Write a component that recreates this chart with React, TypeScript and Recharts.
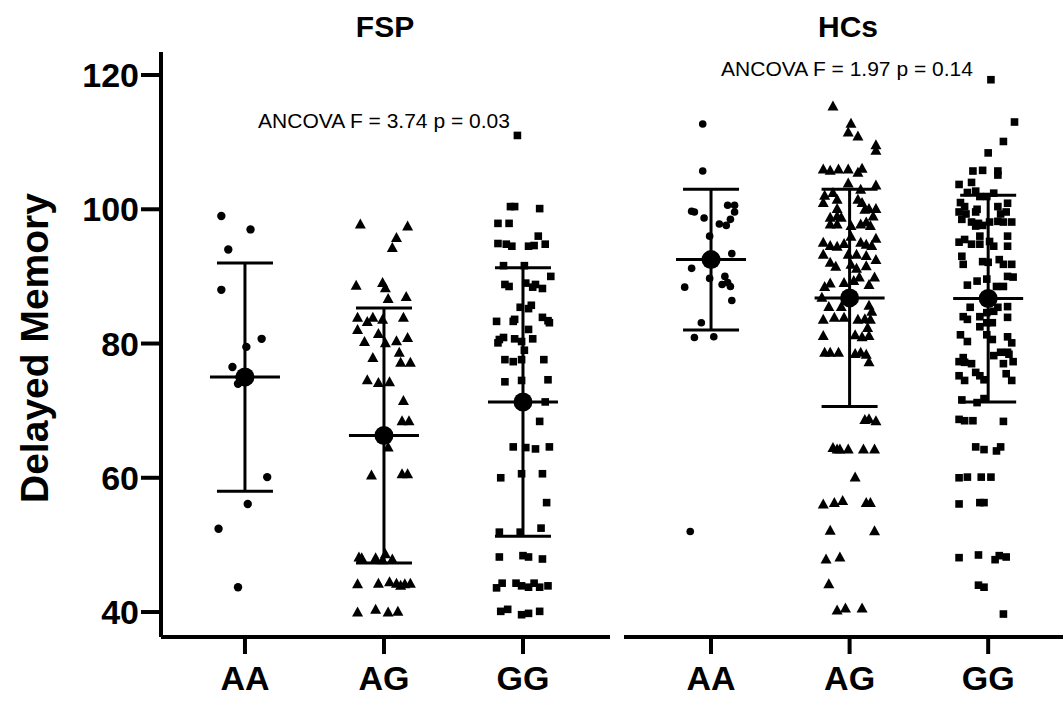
import { ScatterChart, Scatter, XAxis, YAxis, ErrorBar } from "recharts";

const FONT = "'Liberation Sans', Arial, Helvetica, sans-serif";

const categories = ["AA", "AG", "GG"];
const yTicks = [40, 60, 80, 100, 120];

// FSP group: values and horizontal jitter (in category units)
const fspAAValues = [99, 97, 94, 88, 80.7, 79.5, 76.5, 75, 74, 60.1, 56.1, 52.4, 43.7];
const fspAAJitter = [-0.17, 0.04, -0.12, -0.17, 0.12, 0.01, -0.09, -0.04, -0.05, 0.16, 0.02, -0.19, -0.05];

const fspAGValues = [
  97.8, 97.5, 95.8, 94.3, 88.7, 89.1, 88.3, 86.7, 87.0, 83.9, 83.3, 83.9, 83.6, 83.9, 82.1, 81.5,
  80.3, 80.1, 80.4, 80.9, 78.7, 77.9, 77.2, 77.2, 74.6, 74.2, 74.3, 71.5, 68.5, 68.5, 64.6, 60.4,
  60.6, 60.6, 48.2, 48.1, 48.1, 48.7, 47.9, 47.8, 44.2, 44.3, 44.5, 44.3, 44.0, 44.2, 44.3, 40.0,
  40.4, 40.0, 40.1,
];
const fspAGJitter = [
  -0.17, 0.17, 0.09, 0.06, -0.2, -0.01, 0.01, 0.03, 0.16, -0.19, -0.12, -0.08, -0.01, 0.14, -0.19, -0.04,
  -0.14, 0.01, 0.09, 0.17, 0.11, -0.08, 0.12, 0.19, -0.12, -0.04, 0.04, 0.14, 0.13, 0.18, 0.03, -0.09,
  0.13, 0.17, -0.18, -0.16, -0.06, 0.01, 0.06, -0.01, -0.19, -0.04, 0.04, 0.09, 0.12, 0.15, 0.19, -0.19,
  -0.06, 0.03, 0.1,
];

const fspGGValues = [
  111.0, 100.4, 100.4, 100.1, 97.9, 97.9, 96.0, 94.9, 94.8, 94.5, 94.5, 94.6, 94.8, 91.6, 91.6, 90.0,
  88.8, 88.5, 89.0, 88.8, 88.4, 88.2, 85.7, 85.4, 85.2, 83.3, 83.3, 83.6, 83.9, 83.4, 83.1, 82.1,
  80.6, 80.9, 80.7, 80.3, 80.7, 80.1, 79.0, 77.6, 77.3, 77.6, 77.6, 74.3, 74.5, 74.6, 71.3, 68.4,
  64.6, 64.5, 64.3, 64.6, 60.0, 60.6, 60.6, 56.3, 51.9, 51.9, 52.5, 48.2, 48.4, 48.2, 47.9, 43.6,
  44.3, 44.3, 43.9, 43.7, 44.3, 43.7, 43.9, 40.1, 40.4, 39.6, 39.8, 40.1,
];
const fspGGJitter = [
  -0.04, -0.09, -0.06, 0.12, -0.18, -0.1, 0.11, -0.18, -0.12, -0.08, 0.04, 0.08, 0.16, -0.14, 0.01, 0.2,
  -0.13, -0.1, 0.02, 0.09, 0.07, 0.14, 0.06, -0.02, 0.04, -0.19, -0.07, -0.06, 0.14, 0.18, 0.19, 0.04,
  -0.17, -0.14, -0.06, -0.01, 0.07, -0.18, 0.01, -0.13, -0.07, -0.01, 0.15, -0.13, -0.01, 0.18, 0.16, 0.12,
  -0.07, 0.02, 0.09, 0.19, -0.16, -0.01, 0.14, 0.17, -0.17, -0.02, 0.13, -0.17, 0.0, 0.04, 0.14, -0.19,
  -0.15, -0.05, -0.01, 0.04, 0.08, 0.12, 0.18, -0.16, -0.11, -0.01, 0.04, 0.12,
];

// HCs group
const hcAAValues = [
  112.7, 105.7, 99.7, 99.6, 98.7, 100.6, 100.6, 99.6, 98.5, 97.8, 97.6, 96.0, 93.4, 91.2, 89.7, 88.4,
  90.0, 88.8, 89.1, 88.5, 86.4, 83.1, 80.9, 81.0, 52.0,
];
const hcAAJitter = [
  -0.06, -0.06, -0.14, -0.12, -0.05, 0.12, 0.17, 0.17, 0.14, 0.06, 0.11, -0.01, 0.15, -0.14, -0.01, -0.19,
  0.1, 0.08, 0.12, 0.14, 0.15, -0.07, -0.12, 0.02, -0.15,
];

const hcAGValues = [
  115.4, 112.8, 111.5, 110.9, 109.6, 108.8, 106.0, 105.8, 106.0, 106.0, 105.5, 106.1, 103.9, 103.6, 102.1, 102.5,
  103.0, 101.0, 101.5, 101.5, 101.0, 100.1, 100.0, 100.1, 100.1, 98.8, 99.0, 98.8, 99.0, 97.8, 97.8, 97.6,
  97.8, 98.1, 97.6, 95.1, 94.6, 94.5, 94.9, 96.0, 95.1, 94.8, 94.6, 95.7, 93.3, 93.3, 93.3, 93.1,
  92.1, 91.5, 91.8, 92.5, 91.2, 91.6, 88.5, 89.0, 89.1, 89.4, 89.9, 88.8, 89.9, 86.9, 85.5, 85.5,
  85.7, 84.8, 83.9, 83.9, 83.6, 83.7, 83.6, 83.6, 82.4, 81.3, 81.0, 81.2, 81.2, 78.7, 78.7, 78.7,
  78.5, 78.7, 78.4, 77.3, 68.7, 68.8, 68.5, 64.5, 64.3, 64.3, 64.3, 64.3, 64.3, 60.1, 56.1, 56.3,
  56.6, 56.3, 56.3, 52.2, 52.1, 47.9, 48.2, 44.2, 40.3, 40.6, 40.6,
];
const hcAGJitter = [
  -0.12, 0.01, -0.01, 0.06, 0.19, 0.19, -0.19, -0.14, -0.08, -0.01, 0.06, 0.09, -0.01, 0.19, -0.18, -0.12,
  0.08, -0.19, -0.09, 0.06, 0.09, -0.09, 0.11, 0.14, 0.19, -0.14, -0.09, -0.06, 0.17, -0.14, -0.09, 0.01,
  0.08, 0.12, 0.15, -0.19, -0.14, -0.09, -0.04, 0.01, 0.08, 0.12, 0.16, 0.19, -0.19, -0.01, 0.05, 0.12,
  -0.14, -0.1, 0.01, 0.19, 0.05, 0.12, -0.18, -0.14, -0.04, 0.03, 0.07, 0.14, 0.18, -0.2, -0.15, -0.06,
  0.14, 0.16, -0.11, -0.04, 0.06, 0.11, 0.15, -0.19, 0.13, 0.04, 0.09, 0.14, -0.19, -0.18, -0.14, -0.08,
  0.04, 0.08, 0.12, 0.14, 0.11, 0.14, 0.19, -0.12, -0.09, -0.07, -0.01, 0.1, 0.18, 0.04, -0.19, -0.11,
  -0.05, 0.12, 0.15, -0.14, 0.18, -0.17, -0.07, -0.15, -0.09, -0.03, 0.09,
];

const hcGGValues = [
  119.3, 113.0, 110.1, 108.4, 105.7, 105.8, 105.7, 105.1, 103.7, 104.0, 102.5, 102.7, 101.9, 101.9, 102.4, 101.0,
  100.4, 100.0, 100.4, 100.9, 99.6, 99.3, 99.6, 99.3, 99.6, 98.5, 98.1, 97.9, 98.1, 98.2, 98.1, 98.1,
  97.5, 97.6, 95.1, 95.5, 94.8, 96.0, 94.8, 95.2, 94.5, 96.0, 94.5, 93.0, 91.8, 92.2, 92.1, 92.5,
  91.8, 91.8, 88.7, 89.3, 89.6, 88.5, 88.5, 90.0, 89.9, 85.4, 84.0, 83.6, 84.0, 84.6, 84.8, 85.4,
  85.5, 83.9, 82.5, 83.1, 83.1, 81.3, 80.3, 81.3, 80.6, 81.0, 80.1, 78.7, 78.7, 77.9, 78.2, 78.4,
  77.3, 77.2, 77.0, 77.0, 77.3, 75.2, 74.5, 75.7, 75.2, 74.6, 75.5, 74.5, 71.6, 71.2, 71.8, 68.7,
  68.5, 68.5, 68.4, 64.6, 64.2, 64.0, 64.6, 60.0, 60.1, 60.1, 60.1, 56.1, 56.3, 56.3, 48.1, 48.5,
  47.8, 48.4, 48.2, 44.0, 43.7, 39.7,
];
const hcGGJitter = [
  0.02, 0.19, 0.11, 0.0, -0.11, -0.04, 0.07, 0.07, -0.21, -0.12, -0.15, -0.09, -0.06, -0.01, 0.04, -0.2,
  -0.17, -0.08, 0.07, 0.14, -0.21, -0.16, -0.09, 0.09, 0.13, -0.19, -0.12, -0.07, 0.01, 0.07, 0.11, 0.17,
  -0.09, -0.04, -0.21, -0.17, -0.12, -0.06, -0.06, 0.01, 0.04, 0.14, 0.14, -0.19, -0.18, -0.04, 0.0, 0.08,
  0.11, 0.17, -0.15, -0.08, -0.01, 0.06, 0.11, 0.14, 0.18, -0.13, -0.18, -0.15, -0.06, -0.01, 0.04, 0.07,
  0.14, 0.14, -0.06, -0.01, 0.03, -0.2, -0.15, -0.01, 0.03, 0.14, 0.17, 0.09, 0.14, -0.18, 0.04, 0.15,
  -0.21, -0.17, -0.12, 0.11, 0.18, -0.21, -0.17, -0.09, -0.06, -0.03, 0.13, 0.17, -0.19, -0.08, -0.03, -0.21,
  -0.17, -0.11, 0.11, -0.09, -0.03, 0.06, 0.09, -0.21, -0.15, -0.05, 0.02, -0.21, -0.06, -0.03, -0.21, -0.07,
  0.05, 0.08, 0.13, -0.07, -0.03, 0.11,
];

// group means and standard deviations
const fspMeans = [75, 66.3, 71.3];
const fspSD = [17, 19, 20];
const hcMeans = [92.5, 86.8, 86.7];
const hcSD = [10.5, 16.2, 15.4];

const toPoints = (values: number[], jitter: number[], idx: number) =>
  values.map((v, i) => ({ x: idx + jitter[i], y: v }));

const toMeans = (means: number[], sd: number[]) =>
  means.map((m, i) => ({ x: i + 1, y: m, sd: sd[i] }));

const Dot = (r: number) => (props: any) => (
  <circle cx={props.cx} cy={props.cy} r={r} fill="#000" />
);

const Triangle = (props: any) => {
  const { cx, cy } = props;
  return <polygon points={`${cx},${cy - 5.5} ${cx - 5.5},${cy + 4.5} ${cx + 5.5},${cy + 4.5}`} fill="#000" />;
};

const Square = (props: any) => (
  <rect x={props.cx - 3.8} y={props.cy - 3.8} width={7.6} height={7.6} fill="#000" />
);

const MeanMark = (props: any) => {
  const { cx, cy } = props;
  return (
    <g>
      <line x1={cx - 35} x2={cx + 35} y1={cy} y2={cy} stroke="#000" strokeWidth={3} />
      <circle cx={cx} cy={cy} r={9.5} fill="#000" />
    </g>
  );
};

const tickStyle = { fontSize: 34, fontWeight: 700, fill: "#000", fontFamily: FONT };
const axisLine = { stroke: "#000", strokeWidth: 4 };
const yDomain: [number, number] = [36.28, 123.43];

function Panel({
  width,
  domain,
  showY,
  groups,
  means,
}: {
  width: number;
  domain: [number, number];
  showY: boolean;
  groups: { data: { x: number; y: number }[]; shape: any }[];
  means: { x: number; y: number; sd: number }[];
}) {
  return (
    <ScatterChart width={width} height={701} margin={{ top: 52, right: showY ? 2 : 0, bottom: 0, left: 0 }}>
      <XAxis
        type="number"
        dataKey="x"
        domain={domain}
        ticks={[1, 2, 3]}
        tickFormatter={(v) => categories[v - 1]}
        allowDataOverflow
        height={64}
        axisLine={axisLine}
        tickLine={{ stroke: "#000", strokeWidth: 4 }}
        tickSize={17}
        tickMargin={12}
        tick={tickStyle}
        interval={0}
      />
      <YAxis
        type="number"
        dataKey="y"
        domain={yDomain}
        ticks={yTicks}
        allowDataOverflow
        hide={!showY}
        width={161}
        axisLine={axisLine}
        tickLine={{ stroke: "#000", strokeWidth: 4 }}
        tickSize={20}
        tickMargin={2}
        tick={tickStyle}
        interval={0}
      />
      {groups.map((g, i) => (
        <Scatter key={i} data={g.data} shape={g.shape} isAnimationActive={false} />
      ))}
      <Scatter data={means} shape={MeanMark} isAnimationActive={false}>
        <ErrorBar dataKey="sd" direction="y" width={28} strokeWidth={3} stroke="#000" isAnimationActive={false} />
      </Scatter>
    </ScatterChart>
  );
}

export default function App() {
  const fspGroups = [
    { data: toPoints(fspAAValues, fspAAJitter, 1), shape: Dot(4.2) },
    { data: toPoints(fspAGValues, fspAGJitter, 2), shape: Triangle },
    { data: toPoints(fspGGValues, fspGGJitter, 3), shape: Square },
  ];
  const hcGroups = [
    { data: toPoints(hcAAValues, hcAAJitter, 1), shape: Dot(3.8) },
    { data: toPoints(hcAGValues, hcAGJitter, 2), shape: Triangle },
    { data: toPoints(hcGGValues, hcGGJitter, 3), shape: Square },
  ];

  return (
    <div style={{ position: "absolute", left: 0, top: 0, width: 1063, height: 701, background: "#fff", overflow: "hidden" }}>
      <div style={{ position: "absolute", left: 0, top: 0 }}>
        <Panel width={612} domain={[0.396, 3.626]} showY groups={fspGroups} means={toMeans(fspMeans, fspSD)} />
      </div>
      <div style={{ position: "absolute", left: 624, top: 0 }}>
        <Panel width={439} domain={[0.372, 3.54]} showY={false} groups={hcGroups} means={toMeans(hcMeans, hcSD)} />
      </div>
      <svg width={1063} height={701} style={{ position: "absolute", left: 0, top: 0, pointerEvents: "none" }}>
        <g fontFamily={FONT} fill="#000">
          <text x={385} y={37} textAnchor="middle" fontSize={30} fontWeight={700}>FSP</text>
          <text x={848} y={37} textAnchor="middle" fontSize={30} fontWeight={700}>HCs</text>
          <text x={384} y={128} textAnchor="middle" fontSize={21}>ANCOVA F = 3.74 p = 0.03</text>
          <text x={847} y={76} textAnchor="middle" fontSize={21}>ANCOVA F = 1.97 p = 0.14</text>
          <text x={48} y={348} textAnchor="middle" fontSize={39} fontWeight={700} transform="rotate(-90 48 348)">
            Delayed Memory
          </text>
        </g>
      </svg>
    </div>
  );
}
